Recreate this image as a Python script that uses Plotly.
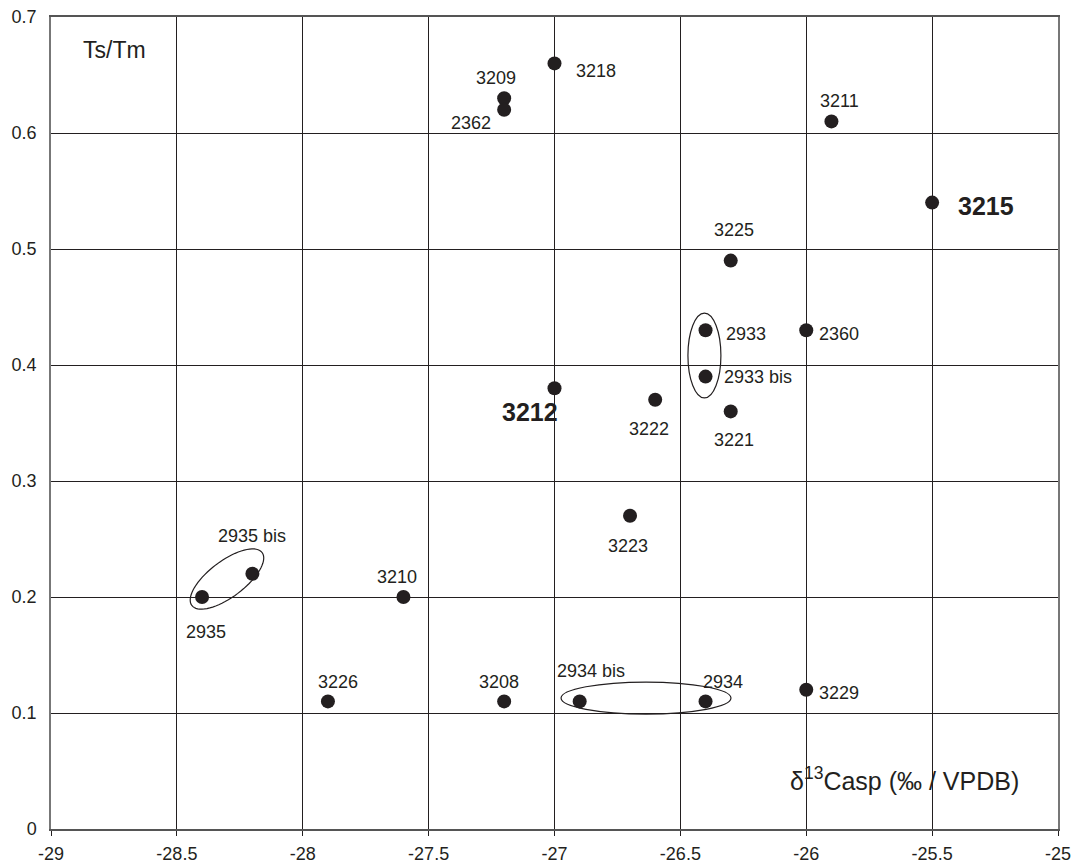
import numpy as np
import plotly.graph_objects as go

# ---- data ----
samples = ["3218", "3209", "2362", "3211", "3215", "3225", "2933", "2360", "2933 bis",
           "3212", "3222", "3221", "3223", "2935 bis", "2935", "3210", "3226", "3208",
           "2934 bis", "2934", "3229"]
d13c = [-27.0, -27.2, -27.2, -25.9, -25.5, -26.3, -26.4, -26.0, -26.4,
        -27.0, -26.6, -26.3, -26.7, -28.2, -28.4, -27.6, -27.9, -27.2,
        -26.9, -26.4, -26.0]
ts_tm = [0.66, 0.63, 0.62, 0.61, 0.54, 0.49, 0.43, 0.43, 0.39,
         0.38, 0.37, 0.36, 0.27, 0.22, 0.20, 0.20, 0.11, 0.11,
         0.11, 0.11, 0.12]
bold_samples = ["3215", "3212"]
x_ticks = [-29, -28.5, -28, -27.5, -27, -26.5, -26, -25.5, -25]
y_ticks = [0, 0.1, 0.2, 0.3, 0.4, 0.5, 0.6, 0.7]

# label offsets in pixels (dx right, dy down) -- styling only
label_offsets = {
    "3218": (41, 8), "3209": (-8, -20), "2362": (-33, 13), "3211": (8, -20),
    "3215": (54, 3), "3225": (3, -31), "2933": (40, 4), "2360": (33, 4),
    "2933 bis": (52, 0), "3212": (-25, 24), "3222": (-6, 29), "3221": (3, 29),
    "3223": (-2, 30), "2935 bis": (0, -38), "2935": (4, 35), "3210": (-6, -20),
    "3226": (10, -19), "3208": (-5, -19), "2934 bis": (11, -30), "2934": (17, -19),
    "3229": (33, 3),
}

INK = "#231f20"
FONT = "Liberation Sans, Arial, sans-serif"

W, H = 1078, 868
ML, MR, MT, MB = 51, 20, 17, 39
xr = [-29, -25]
yr = [0, 0.7]
PW, PH = W - ML - MR, H - MT - MB
px_per_x = PW / (xr[1] - xr[0])
px_per_y = PH / (yr[1] - yr[0])


def paper_x(px):
    return (px - ML) / PW


def paper_y(py):
    return 1 - (py - MT) / PH


fig = go.Figure()
fig.add_trace(go.Scatter(
    x=d13c, y=ts_tm, mode="markers",
    marker=dict(size=14, color=INK, line=dict(width=0)),
    hovertext=samples, showlegend=False, cliponaxis=False,
))

for s, xv, yv in zip(samples, d13c, ts_tm):
    dx, dy = label_offsets[s]
    bold = s in bold_samples
    fig.add_annotation(
        x=xv, y=yv, xref="x", yref="y", showarrow=False,
        xanchor="center", yanchor="middle",
        text=f"<b>{s}</b>" if bold else s,
        xshift=dx, yshift=-dy,
        font=dict(family=FONT, size=25 if bold else 18, color=INK),
    )

# ellipses
ell_style = dict(color=INK, width=1.2)
fig.add_shape(type="circle", xref="x", yref="y",
              x0=-26.47, x1=-26.339, y0=0.3716, y1=0.4448, line=ell_style)
fig.add_shape(type="circle", xref="x", yref="y",
              x0=-26.974, x1=-26.299, y0=0.0991, y1=0.1267, line=ell_style)
cx, cy = -28.301, 0.2155
a_px, b_px, ang = 44, 18, np.deg2rad(37)
t = np.linspace(0, 2 * np.pi, 73)
ex = a_px * np.cos(t) * np.cos(ang) - b_px * np.sin(t) * np.sin(ang)
ey = a_px * np.cos(t) * np.sin(ang) + b_px * np.sin(t) * np.cos(ang)
pts = [(cx + u / px_per_x, cy + v / px_per_y) for u, v in zip(ex, ey)]
path = "M " + " L ".join(f"{p[0]:.5f},{p[1]:.5f}" for p in pts) + " Z"
fig.add_shape(type="path", xref="x", yref="y", path=path, line=ell_style)

# axis titles
fig.add_annotation(x=paper_x(114), y=paper_y(50), xref="paper", yref="paper",
                   xanchor="center", yanchor="middle",
                   text="Ts/Tm", showarrow=False,
                   font=dict(family=FONT, size=23, color=INK))
fig.add_annotation(x=paper_x(904), y=paper_y(779), xref="paper", yref="paper",
                   xanchor="center", yanchor="middle",
                   text="δ<sup>13</sup>Casp (‰ / VPDB)", showarrow=False,
                   font=dict(family=FONT, size=25, color=INK))

fig.update_xaxes(
    range=xr, tickvals=x_ticks, ticktext=[f"{v:g}" for v in x_ticks],
    showgrid=True, gridcolor=INK, gridwidth=1,
    showline=True, linecolor="#555555", linewidth=1.5, mirror=True,
    ticks="outside", ticklen=5, tickcolor=INK, zeroline=False,
    tickfont=dict(family=FONT, size=18, color=INK), ticklabelstandoff=3,
    automargin=False,
)
fig.update_yaxes(
    range=yr, tickvals=y_ticks, ticktext=[f"{v:g}" for v in y_ticks],
    showgrid=True, gridcolor=INK, gridwidth=1,
    showline=True, linecolor="#777777", linewidth=1.5, mirror=True,
    ticks="", zeroline=False,
    tickfont=dict(family=FONT, size=18, color=INK), ticklabelstandoff=9,
    automargin=False,
)
fig.update_layout(
    width=W, height=H, margin=dict(l=ML, r=MR, t=MT, b=MB, autoexpand=False),
    paper_bgcolor="white", plot_bgcolor="white", showlegend=False,
)
fig.write_html("out.html")
